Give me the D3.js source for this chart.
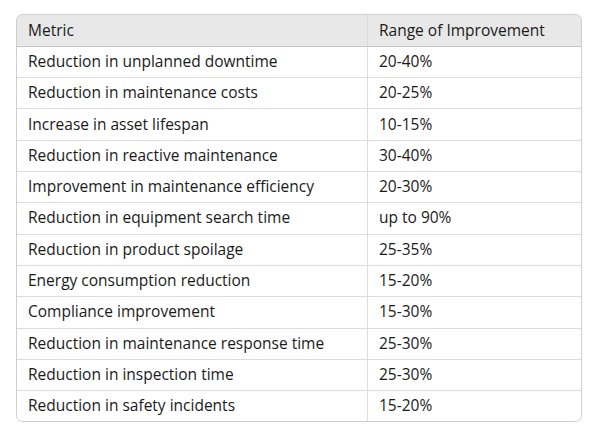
<!DOCTYPE html>
<html>
<head>
<meta charset="utf-8">
<script src="https://cdn.jsdelivr.net/npm/d3@7"></script>
<style>
  body { margin: 0; background: #fff; }
  text { font-family: "Open Sans", sans-serif; font-size: 15.5px; fill: #1a1a1a; }
</style>
</head>
<body>
<svg id="chart" width="600" height="440"></svg>
<script>
const headers = ['Metric', 'Range of Improvement'];
const metrics = [
  'Reduction in unplanned downtime',
  'Reduction in maintenance costs',
  'Increase in asset lifespan',
  'Reduction in reactive maintenance',
  'Improvement in maintenance efficiency',
  'Reduction in equipment search time',
  'Reduction in product spoilage',
  'Energy consumption reduction',
  'Compliance improvement',
  'Reduction in maintenance response time',
  'Reduction in inspection time',
  'Reduction in safety incidents'
];
const ranges = [
  '20-40%', '20-25%', '10-15%', '30-40%', '20-30%', 'up to 90%',
  '25-35%', '15-20%', '15-30%', '25-30%', '25-30%', '15-20%'
];

const tLeft = 16.5, tRight = 581.5, tTop = 14.5, tBottom = 421.5, tSplit = 367.5;
const svg = d3.select('#chart');

const rows = ['header'].concat(metrics.map((m, i) => i));
const y = d3.scaleBand().domain(rows).range([tTop, tBottom]);
const x = d3.scaleOrdinal().domain([0, 1]).range([tLeft, tSplit]);

// clip for rounded outer border
svg.append('clipPath').attr('id', 'round')
  .append('rect')
  .attr('x', tLeft).attr('y', tTop)
  .attr('width', tRight - tLeft).attr('height', tBottom - tTop)
  .attr('rx', 6);

const g = svg.append('g').attr('clip-path', 'url(#round)');

g.append('rect')
  .attr('x', tLeft).attr('y', tTop)
  .attr('width', tRight - tLeft).attr('height', y.bandwidth())
  .attr('fill', '#e8e8e8');

// row separators
g.selectAll('line.row')
  .data(rows.slice(1))
  .join('line')
  .attr('class', 'row')
  .attr('x1', tLeft).attr('x2', tRight)
  .attr('y1', d => Math.round(y(d)) + 0.5).attr('y2', d => Math.round(y(d)) + 0.5)
  .attr('stroke', (d, i) => i === 0 ? '#c4c4c4' : '#dcdcdc');

g.append('line')
  .attr('x1', tSplit).attr('x2', tSplit)
  .attr('y1', tTop).attr('y2', tBottom)
  .attr('stroke', '#dcdcdc');

svg.append('rect')
  .attr('x', tLeft).attr('y', tTop)
  .attr('width', tRight - tLeft).attr('height', tBottom - tTop)
  .attr('rx', 6)
  .attr('fill', 'none')
  .attr('stroke', '#cfcfcf');

const cells = [];
headers.forEach((h, c) => cells.push({ row: 'header', col: c, text: h }));
metrics.forEach((m, i) => {
  cells.push({ row: i, col: 0, text: m });
  cells.push({ row: i, col: 1, text: ranges[i] });
});

svg.selectAll('text.cell')
  .data(cells)
  .join('text')
  .attr('class', 'cell')
  .attr('x', d => x(d.col) + 11.5)
  .attr('y', d => y(d.row) + y.bandwidth() / 2)
  .attr('dy', '0.35em')
  .text(d => d.text);
</script>
</body>
</html>
